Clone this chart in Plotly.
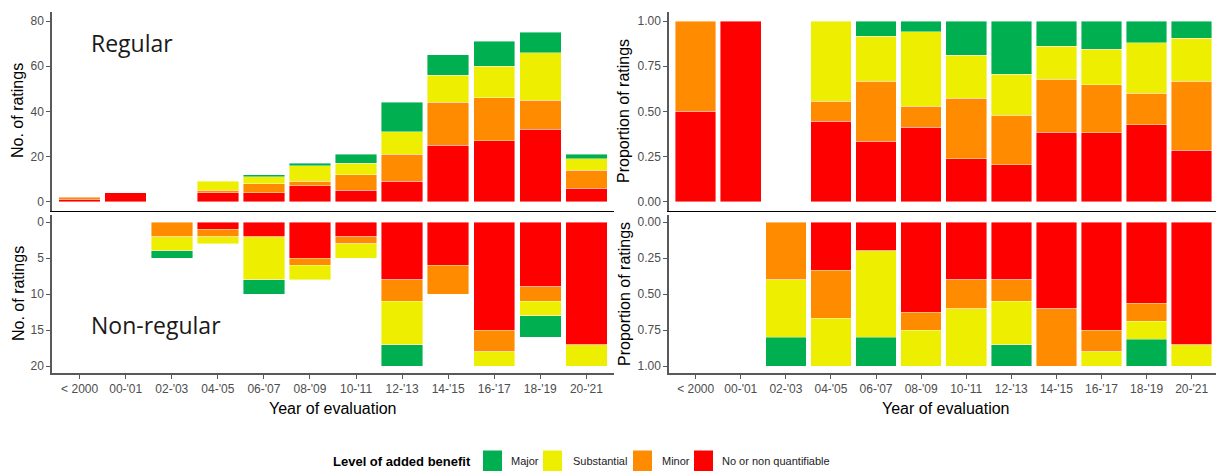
import plotly.graph_objects as go

# Evaluation periods
years = ["< 2000", "00-'01", "02-'03", "04-'05", "06-'07", "08-'09",
         "10-'11", "12-'13", "14-'15", "16-'17", "18-'19", "20-'21"]

# Regular approvals: number of ratings per level of added benefit
reg_none = [1, 4, 0, 4, 4, 7, 5, 9, 25, 27, 32, 6]
reg_minor = [1, 0, 0, 1, 4, 2, 7, 12, 19, 19, 13, 8]
reg_subst = [0, 0, 0, 4, 3, 7, 5, 10, 12, 14, 21, 5]
reg_major = [0, 0, 0, 0, 1, 1, 4, 13, 9, 11, 9, 2]

# Non-regular approvals
nonreg_none = [0, 0, 0, 1, 2, 5, 2, 8, 6, 15, 9, 17]
nonreg_minor = [0, 0, 2, 1, 0, 1, 1, 3, 4, 3, 2, 0]
nonreg_subst = [0, 0, 2, 1, 6, 2, 2, 6, 0, 2, 2, 3]
nonreg_major = [0, 0, 1, 0, 2, 0, 0, 3, 0, 0, 3, 0]

levels = ["No or non quantifiable", "Minor", "Substantial", "Major"]
colors = {"Major": "#00B050", "Substantial": "#EEEE00",
          "Minor": "#FF8C00", "No or non quantifiable": "#FF0000"}

W, H = 1216, 471


def fx(px):
    return px / W


def fy(py):
    return 1 - py / H


def nz(vals):
    return [v if v else None for v in vals]


def proportions(series):
    totals = [sum(col) for col in zip(*series)]
    return [[(v / t if (t and v) else None) for v, t in zip(s, totals)] for s in series]


regular = [reg_none, reg_minor, reg_subst, reg_major]
nonregular = [nonreg_none, nonreg_minor, nonreg_subst, nonreg_major]
reg_prop = proportions(regular)
nonreg_prop = proportions(nonregular)

fig = go.Figure()

panels = [
    ("x", "y", [nz(s) for s in regular]),
    ("x2", "y2", reg_prop),
    ("x3", "y3", [nz(s) for s in nonregular]),
    ("x4", "y4", nonreg_prop),
]
for xa, ya, series in panels:
    for lvl, vals in zip(levels, series):
        fig.add_trace(go.Bar(
            x=years, y=vals, xaxis=xa, yaxis=ya, name=lvl,
            marker=dict(color=colors[lvl], line=dict(color="rgba(255,255,255,0.7)", width=0.6)),
            width=0.9, showlegend=False,
        ))

tick_font = dict(family="Liberation Sans, Arial, sans-serif", size=12, color="#4D4D4D")
axis_gray = "#595959"

left_dom = [fx(52), fx(614)]
right_dom = [fx(669), 1.0]
top_dom = [fy(210.7), fy(12)]
bot_dom = [fy(373.3), fy(215)]

common_x = dict(type="category", categoryorder="array", categoryarray=years,
                showgrid=False, zeroline=False, tickfont=tick_font)
top_x = dict(common_x, showline=True, linecolor="black", linewidth=1.2,
             showticklabels=False, ticks="")
bot_x = dict(common_x, showline=True, linecolor=axis_gray, linewidth=1.5,
             ticks="outside", ticklen=4, tickcolor=axis_gray, tickwidth=1)
common_y = dict(showgrid=False, zeroline=False, showline=True, linecolor=axis_gray,
                linewidth=1.5, ticks="outside", ticklen=4, tickcolor=axis_gray,
                tickwidth=1, tickfont=tick_font)

fig.update_layout(
    width=W, height=H,
    margin=dict(l=0, r=0, t=0, b=0),
    plot_bgcolor="white", paper_bgcolor="white",
    barmode="stack", bargap=0.1,
    showlegend=False,
    xaxis=dict(top_x, domain=left_dom, anchor="y", range=[-0.6, 11.6]),
    yaxis=dict(common_y, domain=top_dom, anchor="x", range=[-4, 84],
               tickvals=[0, 20, 40, 60, 80]),
    xaxis2=dict(top_x, domain=right_dom, anchor="y2", range=[-0.592, 11.54]),
    yaxis2=dict(common_y, domain=top_dom, anchor="x2", range=[-0.05, 1.05],
                tickvals=[0, 0.25, 0.5, 0.75, 1], tickformat=".2f"),
    xaxis3=dict(bot_x, domain=left_dom, anchor="y3", range=[-0.6, 11.6]),
    yaxis3=dict(common_y, domain=bot_dom, anchor="x3", range=[21, -1],
                tickvals=[0, 5, 10, 15, 20]),
    xaxis4=dict(bot_x, domain=right_dom, anchor="y4", range=[-0.592, 11.54]),
    yaxis4=dict(common_y, domain=bot_dom, anchor="x4", range=[1.05, -0.05],
                tickvals=[0, 0.25, 0.5, 0.75, 1], tickformat=".2f"),
)

title_font = dict(family="Liberation Sans, Arial, sans-serif", size=16, color="black")
label_font = dict(family="Open Sans, sans-serif", size=23, color="#1A1A1A")

annotations = [
    dict(text="No. of ratings", x=fx(18), y=fy(111), textangle=-90, font=title_font),
    dict(text="No. of ratings", x=fx(18), y=fy(294), textangle=-90, font=title_font),
    dict(text="Proportion of ratings", x=fx(624), y=fy(111), textangle=-90, font=title_font),
    dict(text="Proportion of ratings", x=fx(624), y=fy(294), textangle=-90, font=title_font),
    dict(text="Year of evaluation", x=fx(333), y=fy(408), font=title_font),
    dict(text="Year of evaluation", x=fx(946), y=fy(408), font=title_font),
    dict(text="Regular", x=fx(89), y=fy(43), xanchor="left", font=label_font),
    dict(text="Non-regular", x=fx(89), y=fy(325), xanchor="left", font=label_font),
    dict(text="<b>Level of added benefit</b>", x=fx(331), y=fy(461), xanchor="left",
         font=dict(family="Liberation Sans, Arial, sans-serif", size=13, color="black")),
]
for a in annotations:
    a.setdefault("xanchor", "center")
    a.update(xref="paper", yref="paper", yanchor="middle", showarrow=False)
fig.update_layout(annotations=annotations)

# Legend keys and labels
legend_items = [("Major", 483, 509), ("Substantial", 543, 571),
                ("Minor", 633, 660), ("No or non quantifiable", 694, 720)]
shapes = []
for lvl, kx, tx in legend_items:
    shapes.append(dict(type="rect", xref="paper", yref="paper",
                       x0=fx(kx), x1=fx(kx + 19), y0=fy(471), y1=fy(450.5),
                       fillcolor=colors[lvl], line=dict(width=0)))
    fig.add_annotation(text=lvl, x=fx(tx), y=fy(461), xref="paper", yref="paper",
                       xanchor="left", yanchor="middle", showarrow=False,
                       font=dict(family="Liberation Sans, Arial, sans-serif", size=11,
                                 color="#222222"))
fig.update_layout(shapes=shapes)

fig.write_html("out.html")
